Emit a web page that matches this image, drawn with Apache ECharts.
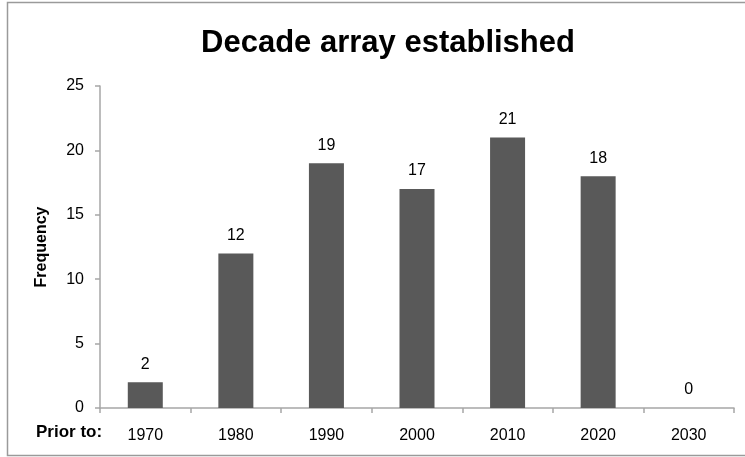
<!DOCTYPE html>
<html>
<head>
<meta charset="utf-8">
<script src="https://cdn.jsdelivr.net/npm/echarts@6/dist/echarts.min.js"></script>
<style>
  html, body { margin: 0; padding: 0; background: #fff; }
  #chart { width: 745px; height: 457px; }
</style>
</head>
<body>
<div id="chart"></div>
<script>
// 类别（年代）
var decades = ["1970", "1980", "1990", "2000", "2010", "2020", "2030"];
// 频数
var frequency = [2, 12, 19, 17, 21, 18, 0];
// y轴刻度
var yTicks = [0, 5, 10, 15, 20, 25];

var myChart = echarts.init(document.getElementById("chart"));

myChart.setOption({
  animation: false,
  title: {
    text: "Decade array established",
    left: 383,
    top: 23,
    textAlign: "center",
    textStyle: {
      color: "#000",
      fontSize: 31,
      fontFamily: "Liberation Sans Narrow, Liberation Sans, Arial",
      fontWeight: "bold",
    },
  },
  grid: { left: 100, right: 11, top: 86, bottom: 49 },
  graphic: [
    {
      type: "rect",
      shape: { x: 7.5, y: 2.5, width: 800, height: 453 },
      style: { fill: "none", stroke: "#9a9a9a", lineWidth: 1.5 },
      silent: true,
    },
    {
      type: "text",
      left: 36,
      top: 424,
      style: {
        text: "Prior to:",
        fill: "#000",
        font: "bold 17px Liberation Sans, Arial",
      },
    },
  ],
  xAxis: {
    type: "category",
    data: decades,
    axisLine: { lineStyle: { color: "#a6a6a6", width: 1.5 } },
    axisTick: { show: true, length: 5, lineStyle: { color: "#a6a6a6", width: 1.5 } },
    axisLabel: {
      color: "#000",
      fontSize: 16,
      fontFamily: "Liberation Sans, Arial",
      margin: 20,
    },
  },
  yAxis: {
    type: "value",
    min: yTicks[0],
    max: yTicks[yTicks.length - 1],
    interval: 5,
    name: "Frequency",
    nameLocation: "middle",
    nameGap: 50,
    nameTextStyle: {
      color: "#000",
      fontSize: 16,
      fontWeight: "bold",
      fontFamily: "Liberation Sans, Arial",
    },
    splitLine: { show: false },
    axisLine: { show: true, lineStyle: { color: "#a6a6a6", width: 1.5 } },
    axisTick: { show: true, length: 5, lineStyle: { color: "#a6a6a6", width: 1.5 } },
    axisLabel: {
      color: "#000",
      fontSize: 16,
      fontFamily: "Liberation Sans, Arial",
      margin: 16,
    },
  },
  series: [
    {
      type: "bar",
      data: frequency,
      barWidth: 35,
      itemStyle: { color: "#595959" },
      label: {
        show: true,
        position: "top",
        distance: 10,
        color: "#000",
        fontSize: 16,
        fontFamily: "Liberation Sans, Arial",
      },
    },
  ],
});
</script>
</body>
</html>
